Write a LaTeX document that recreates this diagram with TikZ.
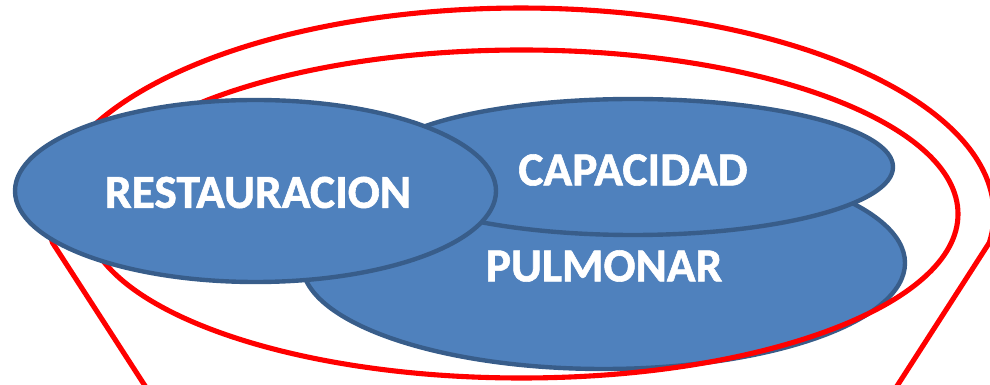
\documentclass[tikz,border=0pt]{standalone}
\usepackage{fontspec}
\setmainfont{Carlito}
\newfontfamily\lblfont{Carlito}[UprightFont=*-Bold, FakeBold=1.2]
\definecolor{ofblue}{HTML}{4F81BD}
\definecolor{ofedge}{HTML}{385D8A}
\begin{document}
\begin{tikzpicture}[x=0.02cm,y=0.02cm,
  blob/.style={fill=ofblue, draw=ofedge, line width=2.5pt},
  rim/.style={draw=red, line width=2.9pt},
  lbl/.style={text=white, font=\lblfont\fontsize{27}{31}\selectfont, inner sep=0pt}]
\useasboundingbox (0,0) rectangle (990,385);
\clip (0,0) rectangle (990,385);
% PULMONAR ellipse (bottom layer)
\path[blob] (603.5,122) ellipse [x radius=301.5, y radius=106];
% funnel: inner opening and outer rim
\path[rim] (521.5,171) ellipse [x radius=436.5, y radius=164];
\path[rim] (52.5,142.3) arc[start angle=188, end angle=-8, x radius=473, y radius=206]
  -- (638.4,-402.7) arc[start angle=-8, end angle=-172, x radius=118, y radius=51.5] -- cycle;
% CAPACIDAD ellipse
\path[blob] (633,218) ellipse [x radius=260, y radius=68];
% RESTAURACION ellipse (top layer)
\path[blob] (255.5,194) ellipse [x radius=240.5, y radius=91];
% labels
\node[lbl] (rest) at (258,192.5) {RESTAURACION};
\node[lbl] (cap) at (633,215) {CAPACIDAD};
\node[lbl] (pulm) at (604,119) {PULMONAR};
\end{tikzpicture}
\end{document}
